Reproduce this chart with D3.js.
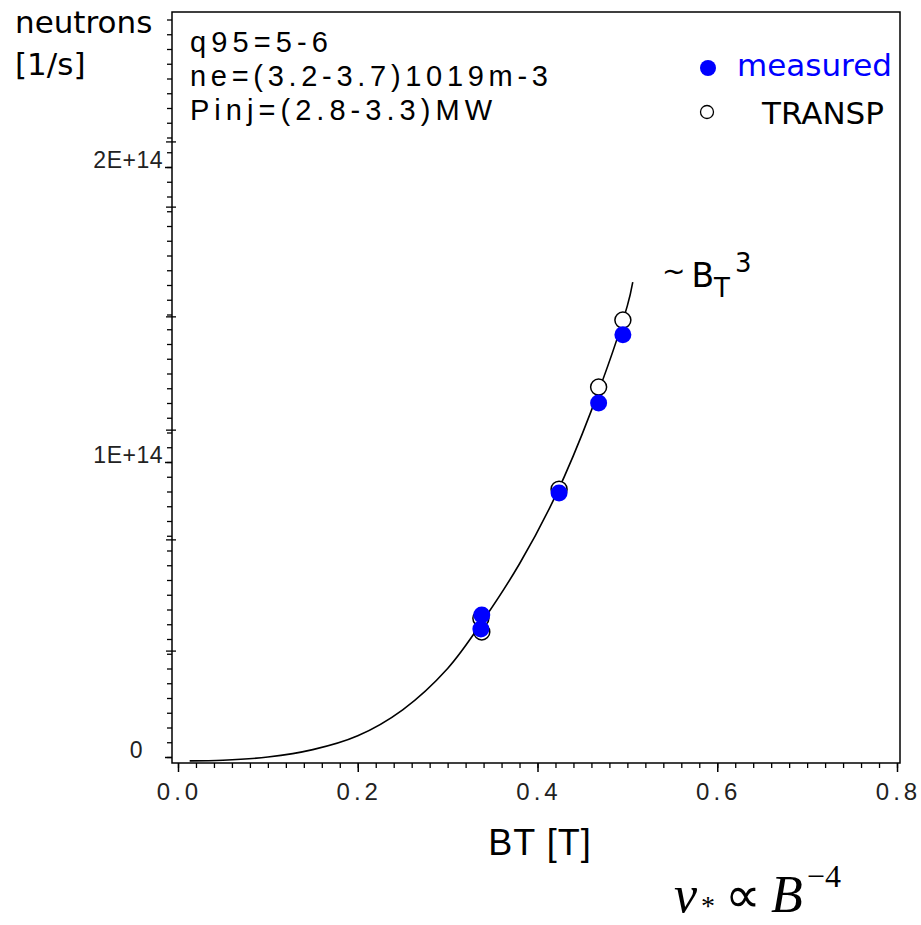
<!DOCTYPE html>
<html>
<head>
<meta charset="utf-8">
<script src="https://cdn.jsdelivr.net/npm/d3@7"></script>
<style>
  body { margin: 0; background: #fff; }
  svg { display: block; }
</style>
</head>
<body>
<div id="chart"></div>
<script>
// data (neutron rates in units of 1E+14 1/s)
var measuredBT = [0.495, 0.468, 0.424, 0.338, 0.337];
var measuredN  = [1.431, 1.200, 0.895, 0.481, 0.434];

var transpBT = [0.495, 0.468, 0.424, 0.338, 0.337];
var transpN  = [1.481, 1.254, 0.908, 0.424, 0.470];

// the ~BT^3 curve as drawn
var fitBT = [0.013, 0.05, 0.10, 0.15, 0.20, 0.25, 0.30, 0.34, 0.38, 0.42, 0.46, 0.50, 0.506];
var fitN  = [-0.013, -0.011, 0.000, 0.025, 0.072, 0.160, 0.300, 0.465, 0.655, 0.885, 1.175, 1.530, 1.610];

var xMajor = [0, 0.2, 0.4, 0.6, 0.8];
var yMajor = [0, 1, 2];
var yLabels = ["0", "1E+14", "2E+14"];
// odd extra ticks that cross the y axis
var yOddTicks = [0.359, 0.736, 1.108, 1.492, 1.864, 2.085];

var infoLines = ["q95=5-6", "ne=(3.2-3.7)1019m-3", "Pinj=(2.8-3.3)MW"];

//Set up chart
var svgWidth = 921;
var svgHeight = 925;

var frame = { left: 172, right: 900, top: 12, bottom: 763 };

var svg = d3.select("#chart")
  .append("svg")
  .attr("width", svgWidth)
  .attr("height", svgHeight);

var x = d3.scaleLinear().domain([0, 0.8]).range([178, 897]);
var y = d3.scaleLinear().domain([0, 2]).range([757, 167]);

var tickFont = "'Liberation Sans', Arial, sans-serif";

// minor tick values
var xMinor = d3.range(0, 41).map(i => i * 0.02).filter(v => v < 0.8035);
var yMinor = d3.range(0, 51).map(i => i * 0.05);

// frame
svg.append("rect")
  .attr("x", frame.left)
  .attr("y", frame.top)
  .attr("width", frame.right - frame.left)
  .attr("height", frame.bottom - frame.top)
  .attr("fill", "none")
  .attr("stroke", "#000")
  .attr("stroke-width", 1.5);

// x axis minor + major
svg.append("g")
  .attr("transform", `translate(0, ${frame.bottom})`)
  .call(d3.axisBottom(x).tickValues(xMinor).tickSize(5).tickFormat(""))
  .call(g => g.select(".domain").remove())
  .selectAll("line").attr("stroke-width", 1.3);

var xAxis = svg.append("g")
  .attr("transform", `translate(0, ${frame.bottom})`)
  .call(d3.axisBottom(x).tickValues(xMajor).tickSize(9).tickFormat(d3.format(".1f")));
xAxis.select(".domain").remove();
xAxis.selectAll("line").attr("stroke-width", 1.5);
xAxis.selectAll("text")
  .attr("y", 37)
  .attr("dy", 0)
  .attr("dx", 1)
  .attr("fill", "#222")
  .style("font-family", tickFont)
  .style("font-size", "24px")
  .style("letter-spacing", "4px");

// y axis minor + major
svg.append("g")
  .attr("transform", `translate(${frame.left}, 0)`)
  .call(d3.axisLeft(y).tickValues(yMinor).tickSize(5).tickFormat(""))
  .call(g => g.select(".domain").remove())
  .selectAll("line").attr("stroke-width", 1.3);

var yAxis = svg.append("g")
  .attr("transform", `translate(${frame.left}, 0)`)
  .call(d3.axisLeft(y).tickValues(yMajor).tickSize(7)
    .tickFormat((d, i) => yLabels[i]));
yAxis.select(".domain").remove();
yAxis.selectAll("line").attr("stroke-width", 1.5);
yAxis.selectAll("text")
  .attr("x", d => d === 0 ? -29 : -9)
  .attr("dy", 0)
  .attr("fill", "#222")
  .style("font-family", tickFont)
  .style("font-size", "23px")
  .style("letter-spacing", "0.5px");

// odd crossing ticks
svg.append("g")
  .selectAll("line")
  .data(yOddTicks)
  .enter()
  .append("line")
  .attr("x1", frame.left - 6)
  .attr("x2", frame.left + 4)
  .attr("y1", d => y(d))
  .attr("y2", d => y(d))
  .attr("stroke", "#000")
  .attr("stroke-width", 1.3);

// curve
var fitData = fitBT.map((b, i) => ({ b: b, n: fitN[i] }));
svg.append("path")
  .datum(fitData)
  .attr("fill", "none")
  .attr("stroke", "#000")
  .attr("stroke-width", 1.6)
  .attr("d", d3.line().x(d => x(d.b)).y(d => y(d.n)).curve(d3.curveCatmullRom));

// TRANSP points (open)
svg.append("g")
  .selectAll("circle")
  .data(transpBT.map((b, i) => ({ b: b, n: transpN[i] })))
  .enter()
  .append("circle")
  .attr("cx", d => x(d.b))
  .attr("cy", d => y(d.n))
  .attr("r", 8)
  .attr("fill", "#fff")
  .attr("stroke", "#000")
  .attr("stroke-width", 1.5);

// measured points (filled blue)
svg.append("g")
  .selectAll("circle")
  .data(measuredBT.map((b, i) => ({ b: b, n: measuredN[i] })))
  .enter()
  .append("circle")
  .attr("cx", d => x(d.b))
  .attr("cy", d => y(d.n))
  .attr("r", 8.5)
  .attr("fill", "#0000ff");

// y title
var sansFont = "'DejaVu Sans', Verdana, sans-serif";
svg.append("text").attr("x", 15).attr("y", 33)
  .style("font-family", sansFont).style("font-size", "31px")
  .text("neutrons");
svg.append("text").attr("x", 15).attr("y", 75)
  .style("font-family", sansFont).style("font-size", "31px")
  .text("[1/s]");

// info lines
var infoWidths = [138, 358, 302];
svg.append("g")
  .selectAll("text")
  .data(infoLines)
  .enter()
  .append("text")
  .attr("x", 190)
  .attr("y", (d, i) => 52 + i * 34)
  .attr("textLength", (d, i) => infoWidths[i])
  .attr("lengthAdjust", "spacing")
  .style("font-family", tickFont)
  .style("font-size", "29px")
  .text(d => d);

// legend
svg.append("circle").attr("cx", 708).attr("cy", 68).attr("r", 8).attr("fill", "#0000ff");
svg.append("text").attr("x", 737).attr("y", 76)
  .attr("fill", "#0000ff")
  .style("font-family", sansFont).style("font-size", "31px")
  .text("measured");
svg.append("circle").attr("cx", 707).attr("cy", 112).attr("r", 6.5)
  .attr("fill", "#fff").attr("stroke", "#000").attr("stroke-width", 1.3);
svg.append("text").attr("x", 762).attr("y", 124)
  .style("font-family", sansFont).style("font-size", "31px")
  .text("TRANSP");

// ~BT^3 label
var fitLabel = svg.append("text").attr("x", 662).attr("y", 287)
  .style("font-family", sansFont).style("font-size", "33px");
fitLabel.append("tspan").style("font-size", "28px").attr("dy", -6).text("~");
fitLabel.append("tspan").attr("dx", 6).attr("dy", 6).text("B");
fitLabel.append("tspan").style("font-size", "26px").attr("dx", 0).attr("dy", 10).text("T");
fitLabel.append("tspan").style("font-size", "26px").attr("dx", 5).attr("dy", -25).text("3");

// x title
svg.append("text")
  .attr("x", 540)
  .attr("y", 855)
  .attr("text-anchor", "middle")
  .style("font-family", tickFont)
  .style("font-size", "36px")
  .style("letter-spacing", "1px")
  .text("BT [T]");

// scaling note
var serif = "'Liberation Serif', 'Times New Roman', serif";
var note = svg.append("text").attr("x", 674).attr("y", 912)
  .style("font-family", serif).style("font-size", "52px");
note.append("tspan").style("font-style", "italic").text("ν");
note.append("tspan").style("font-size", "28px").attr("dx", 4).attr("dy", 3).text("*");
note.append("tspan").style("font-size", "50px").attr("dx", 10).attr("dy", -3).text("∝");
note.append("tspan").style("font-style", "italic").attr("dx", 10).text("B");
note.append("tspan").style("font-size", "32px").attr("dx", 4).attr("dy", -25).text("−4");
</script>
</body>
</html>
